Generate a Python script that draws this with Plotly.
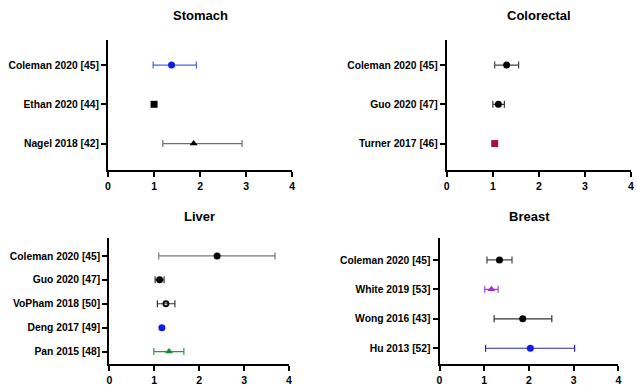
import plotly.graph_objects as go

# ---------------- data ----------------
stomach_studies = ["Nagel 2018 [42]", "Ethan 2020 [44]", "Coleman 2020 [45]"]
stomach_est = [1.86, 1.0, 1.38]
stomach_low = [1.19, None, 0.98]
stomach_high = [2.91, None, 1.92]

colorectal_studies = ["Turner 2017 [46]", "Guo 2020 [47]", "Coleman 2020 [45]"]
colorectal_est = [1.04, 1.12, 1.30]
colorectal_low = [None, 1.00, 1.04]
colorectal_high = [None, 1.25, 1.56]

liver_studies = ["Pan 2015 [48]", "Deng 2017 [49]", "VoPham 2018 [50]", "Guo 2020 [47]", "Coleman 2020 [45]"]
liver_est = [1.33, 1.17, 1.26, 1.12, 2.40]
liver_low = [0.99, None, 1.07, 1.02, 1.10]
liver_high = [1.66, None, 1.46, 1.22, 3.69]

breast_studies = ["Hu 2013 [52]", "Wong 2016 [43]", "White 2019 [53]", "Coleman 2020 [45]"]
breast_est = [2.03, 1.86, 1.16, 1.34]
breast_low = [1.03, 1.22, 1.01, 1.06]
breast_high = [3.02, 2.51, 1.31, 1.62]

x_ticks = [0, 1, 2, 3, 4]

# ---------------- styles ----------------
stomach_style = [
    dict(symbol="triangle-up", color="black", line="#6e6e6e", size=7),
    dict(symbol="square", color="black", line="black", size=7),
    dict(symbol="circle", color="#0a1ee6", line="#4f63d8", size=7),
]
colorectal_style = [
    dict(symbol="square", color="#a3123f", line="#a3123f", size=7),
    dict(symbol="circle", color="black", line="#333333", size=7),
    dict(symbol="circle", color="black", line="#444444", size=7),
]
liver_style = [
    dict(symbol="triangle-up", color="#1a8a2e", line="#2a9a3e", size=7),
    dict(symbol="circle", color="#0a1ee6", line="#0a1ee6", size=7),
    dict(symbol="circle-open", color="black", line="#333333", size=5),
    dict(symbol="circle", color="black", line="#333333", size=7),
    dict(symbol="circle", color="black", line="#777777", size=7),
]
breast_style = [
    dict(symbol="circle", color="#0a1ee6", line="#2a2aa8", size=7),
    dict(symbol="circle", color="black", line="#333333", size=7),
    dict(symbol="triangle-up", color="#9b30d0", line="#a040d8", size=7),
    dict(symbol="circle", color="black", line="#444444", size=7),
]

panels = [
    dict(title="Stomach", studies=stomach_studies, est=stomach_est, low=stomach_low, high=stomach_high,
         style=stomach_style, xd=[0.1664, 0.4584], yd=[0.5544, 0.8964], yr=[-0.68, 2.65], ty=16),
    dict(title="Colorectal", studies=colorectal_studies, est=colorectal_est, low=colorectal_low, high=colorectal_high,
         style=colorectal_style, xd=[0.7033, 0.9953], yd=[0.5544, 0.8964], yr=[-0.68, 2.65], ty=16),
    dict(title="Liver", studies=liver_studies, est=liver_est, low=liver_low, high=liver_high,
         style=liver_style, xd=[0.1685, 0.4532], yd=[0.0459, 0.3782], yr=[-0.54, 4.77], ty=219),
    dict(title="Breast", studies=breast_studies, est=breast_est, low=breast_low, high=breast_high,
         style=breast_style, xd=[0.6918, 0.9754], yd=[0.0459, 0.3782], yr=[-0.55, 3.76], ty=219),
]

FONT = "Arial, Liberation Sans, sans-serif"
fig = go.Figure()
annotations = []
layout = {}
H = 386

for k, p in enumerate(panels):
    sfx = "" if k == 0 else str(k + 1)
    xa, ya = "x" + sfx, "y" + sfx
    for i, name in enumerate(p["studies"]):
        st = p["style"][i]
        e = p["est"][i]
        lo, hi = p["low"][i], p["high"][i]
        err = None
        if lo is not None and hi is not None:
            err = dict(type="data", symmetric=False, array=[hi - e], arrayminus=[e - lo],
                       color=st["line"], thickness=1.2, width=3.5)
        mk = dict(symbol=st["symbol"], color=st["color"], size=st["size"])
        if st["symbol"] == "circle-open":
            mk["line"] = dict(width=1.8, color=st["color"])
        fig.add_trace(go.Scatter(
            x=[e], y=[i], mode="markers", marker=mk, error_x=err,
            xaxis=xa, yaxis=ya, showlegend=False, cliponaxis=False,
        ))
    layout["xaxis" + sfx] = dict(
        domain=p["xd"], anchor=ya, range=[0, 4], tickvals=x_ticks, ticktext=[str(t) for t in x_ticks],
        showgrid=False, zeroline=False, showline=True, linecolor="black", linewidth=2,
        ticks="outside", ticklen=5, tickwidth=1.5, tickcolor="black",
        tickfont=dict(family=FONT, size=10.5, color="black", weight="bold"),
    )
    layout["yaxis" + sfx] = dict(
        domain=p["yd"], anchor=xa, range=p["yr"], tickvals=list(range(len(p["studies"]))),
        ticktext=p["studies"], showgrid=False, zeroline=False, showline=True, linecolor="black",
        linewidth=2, ticks="outside", ticklen=5, tickwidth=1.5, tickcolor="black",
        tickfont=dict(family=FONT, size=10.3, color="black", weight="bold"),
    )
    annotations.append(dict(
        text="<b>%s</b>" % p["title"], xref="paper", yref="paper",
        x=(p["xd"][0] + p["xd"][1]) / 2, y=1 - p["ty"] / H, xanchor="center", yanchor="middle",
        showarrow=False, font=dict(family=FONT, size=13, color="black"),
    ))

fig.update_layout(
    width=637, height=386, margin=dict(l=0, r=0, t=0, b=0),
    paper_bgcolor="white", plot_bgcolor="white", annotations=annotations, **layout,
)

fig.write_html(
    "out.html",
    config={"displayModeBar": False},
    post_script="document.body.style.margin='0';document.body.style.padding='0';"
                "document.body.style.overflow='hidden';",
)
